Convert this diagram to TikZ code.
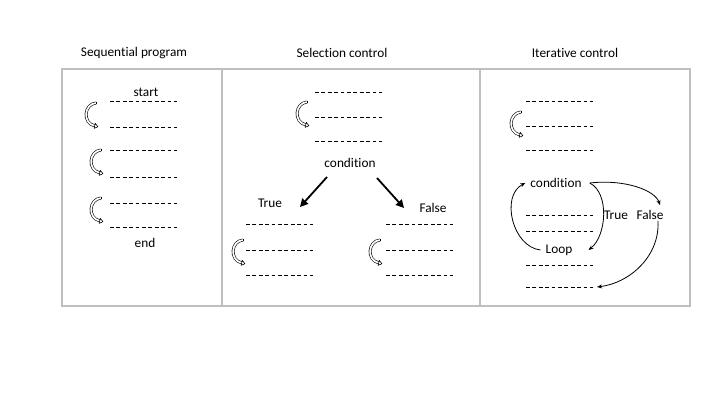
\documentclass[tikz,border=0pt]{standalone}
\usepackage{fontspec}
\setmainfont{Carlito}[Ligatures=NoCommon]
\usetikzlibrary{arrows.meta}
\begin{document}
\begin{tikzpicture}[x=1pt,y=-1pt,
  lbl/.style={font=\fontsize{13.3}{16}\selectfont, inner sep=1pt},
  dl/.style={draw=black, line width=0.8pt, dash pattern=on 3.8pt off 2.6pt},
  frame/.style={draw=black!25, line width=2pt},
  thickarr/.style={line width=1.8pt, -{Triangle[length=8pt,width=8pt]}},
  thinarr/.style={line width=0.8pt, -{Stealth[length=5pt,width=4pt]}},
  carr/.pic={
    \draw[line width=0.6pt, double=white, double distance=1.7pt] (0,0) .. controls (-12,1) and (-14,20) .. (-1,23);
    \draw[line width=0.6pt] (0.3,-1.4) -- (0.3,1.4);
    \draw[line width=0.6pt, fill=white, line join=round] (-1.9,25.4) -- (1.9,23.7) -- (-0.7,20.4) -- cycle;
  }
]
\useasboundingbox (0,0) rectangle (720,405);
% frames
\draw[frame] (62,69) rectangle (690,306);
\draw[frame] (222,69) -- (222,306);
\draw[frame] (480,69) -- (480,306);
% titles
\node[lbl] (t1) at (134,53) {Sequential program};
\node[lbl] (t2) at (342,53) {Selection control};
\node[lbl] (t3) at (575,53) {Iterative control};
% panel 1
\node[lbl] (start) at (146,92) {start};
\node[lbl] (end) at (145,243) {end};
\foreach \y in {101,127,150,177,203,227} \draw[dl] (110,\y) -- (177,\y);
\pic at (96,103) {carr};
\pic at (101,150) {carr};
\pic at (101,198) {carr};
% panel 2
\foreach \y in {92,117,141} \draw[dl] (315,\y) -- (382,\y);
\foreach \y in {224,250,275} {
  \draw[dl] (246,\y) -- (313,\y);
  \draw[dl] (386,\y) -- (453,\y);
}
\pic at (307,102) {carr};
\pic at (243,240) {carr};
\pic at (380,240) {carr};
\node[lbl] (c2) at (350,163) {condition};
\node[lbl] (tr2) at (270,203) {True};
\node[lbl] (fa2) at (433,208) {False};
\coordinate (sa) at (327,177);
\coordinate (ta) at (300,207);
\coordinate (sb) at (377,178);
\coordinate (tb) at (404,208);
\draw[thickarr] (sa) -- (ta);
\draw[thickarr] (sb) -- (tb);
% panel 3
\foreach \y in {101,126,150,215,231,265,287} \draw[dl] (526,\y) -- (593,\y);
\pic at (521,112) {carr};
\node[lbl] (c3) at (556,183) {condition};
\node[lbl] (tr3) at (616,215) {True};
\node[lbl] (fa3) at (650,215) {False};
\node[lbl] (lp) at (559,250) {Loop};
\coordinate (dend) at (597,287);
\draw[thinarr] ([xshift=7pt]c3.east) .. controls +(20,10) and +(18,-14) .. ([xshift=15pt]lp.east);
\draw[thinarr] ([xshift=-4pt]lp.west) .. controls +(-28,-3) and +(-25,13) .. ([xshift=-4pt]c3.west);
\draw[thinarr] ([xshift=7pt]c3.east) .. controls +(35,-4) and +(-5,-15) .. ([shift={(10,-4)}]fa3.north);
\draw[thinarr] ([xshift=8pt]fa3.south) .. controls +(2,35) and +(33,-4) .. (dend);
\end{tikzpicture}
\end{document}
